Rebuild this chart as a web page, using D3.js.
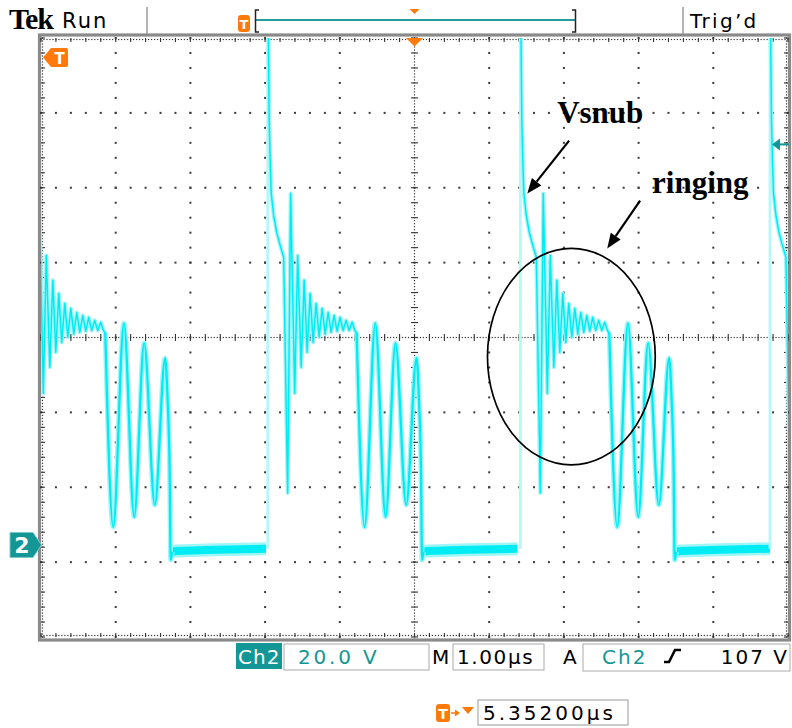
<!DOCTYPE html>
<html>
<head>
<meta charset="utf-8">
<script src="https://cdn.jsdelivr.net/npm/d3@7"></script>
<style>
  body { margin: 0; background: #fff; }
  svg text { font-family: "DejaVu Sans", sans-serif; }
</style>
</head>
<body>
<svg id="scope" width="792" height="728"></svg>
<script>
// scope settings
const usPerDiv = 1.0;
const voltsPerDiv = 20.0;
const ch2Ground = -2.771;      // ground marker, divisions from centre
const trigLevel = 107;         // V
const readouts = {ch: "Ch2", scale: "20.0 V", time: "1.00µs", trig: "107 V", delay: "5.35200µs"};

// rising edges of the drain voltage, µs from screen centre
const edgeTimes = [-5.33, -1.965, 1.417, 4.759];

// clamp spike and fast ringing after turn-off, [µs after edge, V]
const snubPts = [
  [0.004, 145], [0.020, 113.3], [0.033, 102.7], [0.047, 93.9], [0.080, 88.0],
  [0.120, 83.5], [0.160, 80.5], [0.214, 76.8], [0.267, 13.9], [0.307, 93.9],
  [0.361, 40.5], [0.401, 77.3], [0.448, 47.5], [0.488, 70.7], [0.528, 51.5],
  [0.568, 67.2], [0.608, 54.1], [0.648, 64.5], [0.689, 55.5], [0.729, 63.2],
  [0.769, 56.3], [0.809, 62.1], [0.849, 56.8], [0.889, 61.3], [0.929, 57.1],
  [0.969, 60.8], [1.009, 57.3], [1.049, 60.0], [1.090, 57.3], [1.130, 59.5],
  [1.170, 57.1], [1.190, 56.8]
];
// resonant ringing once the core is reset, then the switch turns on
const ringPts = [
  [1.190, 56.8], [1.297, 4.8], [1.440, 59.2], [1.578, 7.5], [1.711, 53.9],
  [1.854, 10.7], [1.992, 49.9], [2.025, 38.7], [2.052, 20.0], [2.066, -4.0],
  [2.086, -1.8]
];
// on-state level
const lowPts = [[2.086, -1.8], [2.14, -1.6], [2.67, -1.3], [3.342, -1.0]];

// annotations, in µs / V
const notes = [
  {text: "Vsnub", t: 1.91, v: 112.8},
  {text: "ringing", t: 3.18, v: 94.1}
];
const arrows = [
  {from: [2.07, 108.0], to: [1.51, 93.9]},
  {from: [3.02, 92.0], to: [2.58, 79.2]}
];
const ringMark = {t: 2.10, v: 50.3, rt: 1.123, rv: 28.9};

const orange = "#ff7a0a";
const teal = "#139696";
const cyan = "#00ecf5";
const glow = "#a2f5f7";

const svg = d3.select("#scope");

const x = d3.scaleLinear().domain([-5 * usPerDiv, 5 * usPerDiv]).range([41, 788]);
const yDiv = d3.scaleLinear().domain([-4, 4]).range([637, 38]);
const yV = d3.scaleLinear()
  .domain([(-4 - ch2Ground) * voltsPerDiv, (4 - ch2Ground) * voltsPerDiv])
  .range([637, 38]);
const xDiv = d3.scaleLinear().domain([-5, 5]).range(x.range());

// ---- graticule ----
const grid = svg.append("g");

// outer frame
grid.append("rect")
  .attr("x", 39.5).attr("y", 35).attr("width", 750).attr("height", 605)
  .attr("fill", "none").attr("stroke", "#8a8a8a").attr("stroke-width", 3.2);

const dots = [];
d3.range(-4, 5).filter(k => k !== 0).forEach(k => {
  d3.range(-20, 21).forEach(j => dots.push([xDiv(k), yDiv(j / 5)]));
});
d3.range(-3, 4).filter(j => j !== 0).forEach(j => {
  d3.range(-25, 26).forEach(i => dots.push([xDiv(i / 5), yDiv(j)]));
});
grid.selectAll(".dot").data(dots).enter().append("rect")
  .attr("class", "dot")
  .attr("x", d => d[0] - 1).attr("y", d => d[1] - 1)
  .attr("width", 2).attr("height", 2).attr("fill", "#3a3a3a");

// fine rulers: centre cross and frame edges
const fine = [];
const ticks = [];
d3.range(-125, 126).forEach(i => {
  const px = xDiv(i / 25);
  fine.push([px, yDiv(0)], [px, yDiv(4) + 1.5], [px, yDiv(-4) - 1.5]);
});
d3.range(-100, 101).forEach(j => {
  const py = yDiv(j / 25);
  fine.push([xDiv(0), py], [xDiv(-5) + 1.5, py], [xDiv(5) - 1.5, py]);
});
d3.range(-25, 26).forEach(i => {
  const px = xDiv(i / 5);
  ticks.push([px, yDiv(0) - 3.5, px, yDiv(0) + 3.5]);
  ticks.push([px, yDiv(4), px, yDiv(4) + 4]);
  ticks.push([px, yDiv(-4) - 4, px, yDiv(-4)]);
});
d3.range(-20, 21).forEach(j => {
  const py = yDiv(j / 5);
  ticks.push([xDiv(0) - 3.5, py, xDiv(0) + 3.5, py]);
  ticks.push([xDiv(-5), py, xDiv(-5) + 4, py]);
  ticks.push([xDiv(5) - 4, py, xDiv(5), py]);
});
grid.selectAll(".fine").data(fine).enter().append("rect")
  .attr("class", "fine")
  .attr("x", d => d[0] - 0.6).attr("y", d => d[1] - 0.6)
  .attr("width", 1.2).attr("height", 1.2).attr("fill", "#333");
grid.selectAll(".tick").data(ticks).enter().append("line")
  .attr("class", "tick")
  .attr("x1", d => d[0]).attr("y1", d => d[1])
  .attr("x2", d => d[2]).attr("y2", d => d[3])
  .attr("stroke", "#333").attr("stroke-width", 1.1);

// ---- trace ----
svg.append("clipPath").attr("id", "screen").append("rect")
  .attr("x", x.range()[0]).attr("y", yDiv(4))
  .attr("width", x.range()[1] - x.range()[0]).attr("height", yDiv(-4) - yDiv(4));

const trace = svg.append("g").attr("clip-path", "url(#screen)");
const line = d3.line().x(d => x(d[0])).y(d => yV(d[1]));
const smooth = d3.line().x(d => x(d[0])).y(d => yV(d[1])).curve(d3.curveMonotoneX);
const shift = (pts, e) => pts.map(([t, v]) => [e + t, v]);

edgeTimes.forEach(e => {
  trace.append("path").attr("d", line(shift(lowPts, e)))
    .attr("fill", "none").attr("stroke", glow).attr("stroke-width", 13);
  trace.append("path").attr("d", line(shift(lowPts, e)))
    .attr("fill", "none").attr("stroke", cyan).attr("stroke-width", 8);
});

edgeTimes.forEach(e => {
  const lowEnd = lowPts[lowPts.length - 1][1];
  trace.append("path").attr("d", line([[e, lowEnd], [e, 145]]))
    .attr("fill", "none").attr("stroke", "#b6f7f7").attr("stroke-width", 2.8);
});

edgeTimes.forEach(e => {
  trace.append("path").attr("d", line(shift(snubPts, e)))
    .attr("fill", "none").attr("stroke", glow).attr("stroke-width", 4)
    .attr("stroke-linejoin", "round");
  trace.append("path").attr("d", smooth(shift(ringPts, e)))
    .attr("fill", "none").attr("stroke", glow).attr("stroke-width", 5);
});
edgeTimes.forEach(e => {
  trace.append("path").attr("d", line(shift(snubPts, e)))
    .attr("fill", "none").attr("stroke", cyan).attr("stroke-width", 1.5)
    .attr("stroke-linejoin", "round");
  trace.append("path").attr("d", smooth(shift(ringPts, e)))
    .attr("fill", "none").attr("stroke", cyan).attr("stroke-width", 2.3);
});

// ---- annotations ----
const ann = svg.append("g");
ann.append("ellipse")
  .attr("cx", x(ringMark.t)).attr("cy", yV(ringMark.v))
  .attr("rx", x(ringMark.t + ringMark.rt) - x(ringMark.t))
  .attr("ry", yV(ringMark.v - ringMark.rv) - yV(ringMark.v))
  .attr("fill", "none").attr("stroke", "#000").attr("stroke-width", 1.7);

arrows.forEach(a => {
  const x1 = x(a.from[0]), y1 = yV(a.from[1]), x2 = x(a.to[0]), y2 = yV(a.to[1]);
  const ang = Math.atan2(y2 - y1, x2 - x1);
  const hl = 15, hw = 6;
  const bx = x2 - hl * Math.cos(ang), by = y2 - hl * Math.sin(ang);
  ann.append("line").attr("x1", x1).attr("y1", y1).attr("x2", bx).attr("y2", by)
    .attr("stroke", "#000").attr("stroke-width", 2.2);
  ann.append("polygon")
    .attr("points", [
      [x2, y2],
      [bx + hw * Math.sin(ang), by - hw * Math.cos(ang)],
      [bx - hw * Math.sin(ang), by + hw * Math.cos(ang)]
    ].map(p => p.join(",")).join(" "))
    .attr("fill", "#000");
});

ann.selectAll(".note").data(notes).enter().append("text")
  .attr("class", "note")
  .attr("x", d => x(d.t)).attr("y", d => yV(d.v))
  .style("font-family", "'Liberation Serif', 'Times New Roman', serif")
  .style("font-weight", "bold").style("font-size", "31px")
  .text(d => d.text);

// ---- screen markers ----
const tx = x(0);
svg.append("polygon")
  .attr("points", `${tx - 8.5},38 ${tx + 8.5},38 ${tx},46.5`).attr("fill", orange);

// trigger point off screen to the left
svg.append("path")
  .attr("d", "M43,57.5 L51,48 H66 Q68,48 68,50 V65 Q68,67 66,67 H51 Z").attr("fill", orange);
svg.append("text").attr("x", 59.5).attr("y", 64).attr("text-anchor", "middle")
  .attr("fill", "#fff").style("font-weight", "bold").style("font-size", "15px").text("T");

// ch2 ground marker
const gy = yV(0);
svg.append("path")
  .attr("d", `M10,${gy - 12.5} H33 L41.5,${gy} L33,${gy + 12.5} H10 Z`)
  .attr("fill", teal).attr("stroke", "#7cc8c8").attr("stroke-width", 1);
svg.append("text").attr("x", 22).attr("y", gy + 8).attr("text-anchor", "middle")
  .attr("fill", "#fff").style("font-weight", "bold").style("font-size", "22px").text("2");

// trigger level
const ty = yV(trigLevel);
svg.append("line").attr("x1", 778).attr("y1", ty).attr("x2", 789).attr("y2", ty)
  .attr("stroke", teal).attr("stroke-width", 2);
svg.append("polygon").attr("points", `772,${ty} 780,${ty - 6} 780,${ty + 6}`).attr("fill", teal);

// ---- top status bar ----
const bar = svg.append("g");
bar.append("text").attr("x", 9).attr("y", 29)
  .style("font-family", "'Liberation Serif', serif").style("font-weight", "bold")
  .style("font-size", "30px").attr("letter-spacing", -1.2).text("Tek");
bar.append("text").attr("x", 62).attr("y", 28).style("font-size", "21px")
  .attr("letter-spacing", 2).text("Run");
bar.append("line").attr("x1", 147).attr("x2", 147).attr("y1", 7).attr("y2", 34)
  .attr("stroke", "#9a9a9a").attr("stroke-width", 1.5);
bar.append("line").attr("x1", 683).attr("x2", 683).attr("y1", 7).attr("y2", 34)
  .attr("stroke", "#9a9a9a").attr("stroke-width", 1.5);
bar.append("text").attr("x", 690).attr("y", 28).style("font-size", "20px")
  .attr("letter-spacing", 2.3).text("Trig’d");

// record view
bar.append("rect").attr("x", 238).attr("y", 15).attr("width", 12).attr("height", 17)
  .attr("rx", 3).attr("fill", orange);
bar.append("text").attr("x", 244).attr("y", 29).attr("text-anchor", "middle")
  .attr("fill", "#fff").style("font-weight", "bold").style("font-size", "13px").text("T");
bar.append("line").attr("x1", 256).attr("x2", 575).attr("y1", 20).attr("y2", 20)
  .attr("stroke", "#229c9c").attr("stroke-width", 2);
bar.append("path").attr("d", "M259,10 H255.5 V32 H259 M572,10 H575.5 V32 H572")
  .attr("fill", "none").attr("stroke", "#222").attr("stroke-width", 1.5);
bar.append("polygon").attr("points", `${tx - 5},9 ${tx + 5},9 ${tx},14`).attr("fill", orange);

// ---- bottom readouts ----
const bot = svg.append("g").style("font-size", "20px");
bot.append("rect").attr("x", 236).attr("y", 643).attr("width", 46).attr("height", 26).attr("fill", teal);
bot.append("text").attr("x", 238).attr("y", 664).attr("fill", "#fff")
  .attr("letter-spacing", 1).text(readouts.ch);
bot.append("rect").attr("x", 284).attr("y", 644).attr("width", 145).attr("height", 26)
  .attr("fill", "none").attr("stroke", "#aaa");
bot.append("text").attr("x", 298).attr("y", 664).attr("fill", teal)
  .attr("letter-spacing", 2.8).text(readouts.scale);
bot.append("text").attr("x", 432).attr("y", 664).text("M");
bot.append("rect").attr("x", 453).attr("y", 644).attr("width", 91).attr("height", 26)
  .attr("fill", "none").attr("stroke", "#aaa");
bot.append("text").attr("x", 457).attr("y", 664).attr("letter-spacing", 1.6).text(readouts.time);
bot.append("text").attr("x", 563).attr("y", 664).text("A");
bot.append("rect").attr("x", 583).attr("y", 644).attr("width", 207).attr("height", 27)
  .attr("fill", "none").attr("stroke", "#aaa");
bot.append("text").attr("x", 602).attr("y", 664).attr("fill", teal)
  .attr("letter-spacing", 2).text(readouts.ch);
bot.append("path").attr("d", "M664,662 H669 L675,650 H681")
  .attr("fill", "none").attr("stroke", "#000").attr("stroke-width", 2.6);
bot.append("text").attr("x", 789).attr("y", 664).attr("text-anchor", "end")
  .attr("letter-spacing", 2).text(readouts.trig);

bot.append("rect").attr("x", 436).attr("y", 704).attr("width", 14).attr("height", 18)
  .attr("rx", 3).attr("fill", orange);
bot.append("text").attr("x", 443).attr("y", 719).attr("text-anchor", "middle")
  .attr("fill", "#fff").style("font-weight", "bold").style("font-size", "14px").text("T");
bot.append("line").attr("x1", 451).attr("x2", 457).attr("y1", 713).attr("y2", 713)
  .attr("stroke", orange).attr("stroke-width", 1.5);
bot.append("polygon").attr("points", "460,713 455,709.5 455,716.5").attr("fill", orange);
bot.append("polygon").attr("points", "462,707 474,707 468,714").attr("fill", orange);
bot.append("rect").attr("x", 478).attr("y", 700).attr("width", 150).attr("height", 25)
  .attr("fill", "none").attr("stroke", "#999");
bot.append("text").attr("x", 483).attr("y", 720).attr("letter-spacing", 3).text(readouts.delay);
</script>
</body>
</html>
